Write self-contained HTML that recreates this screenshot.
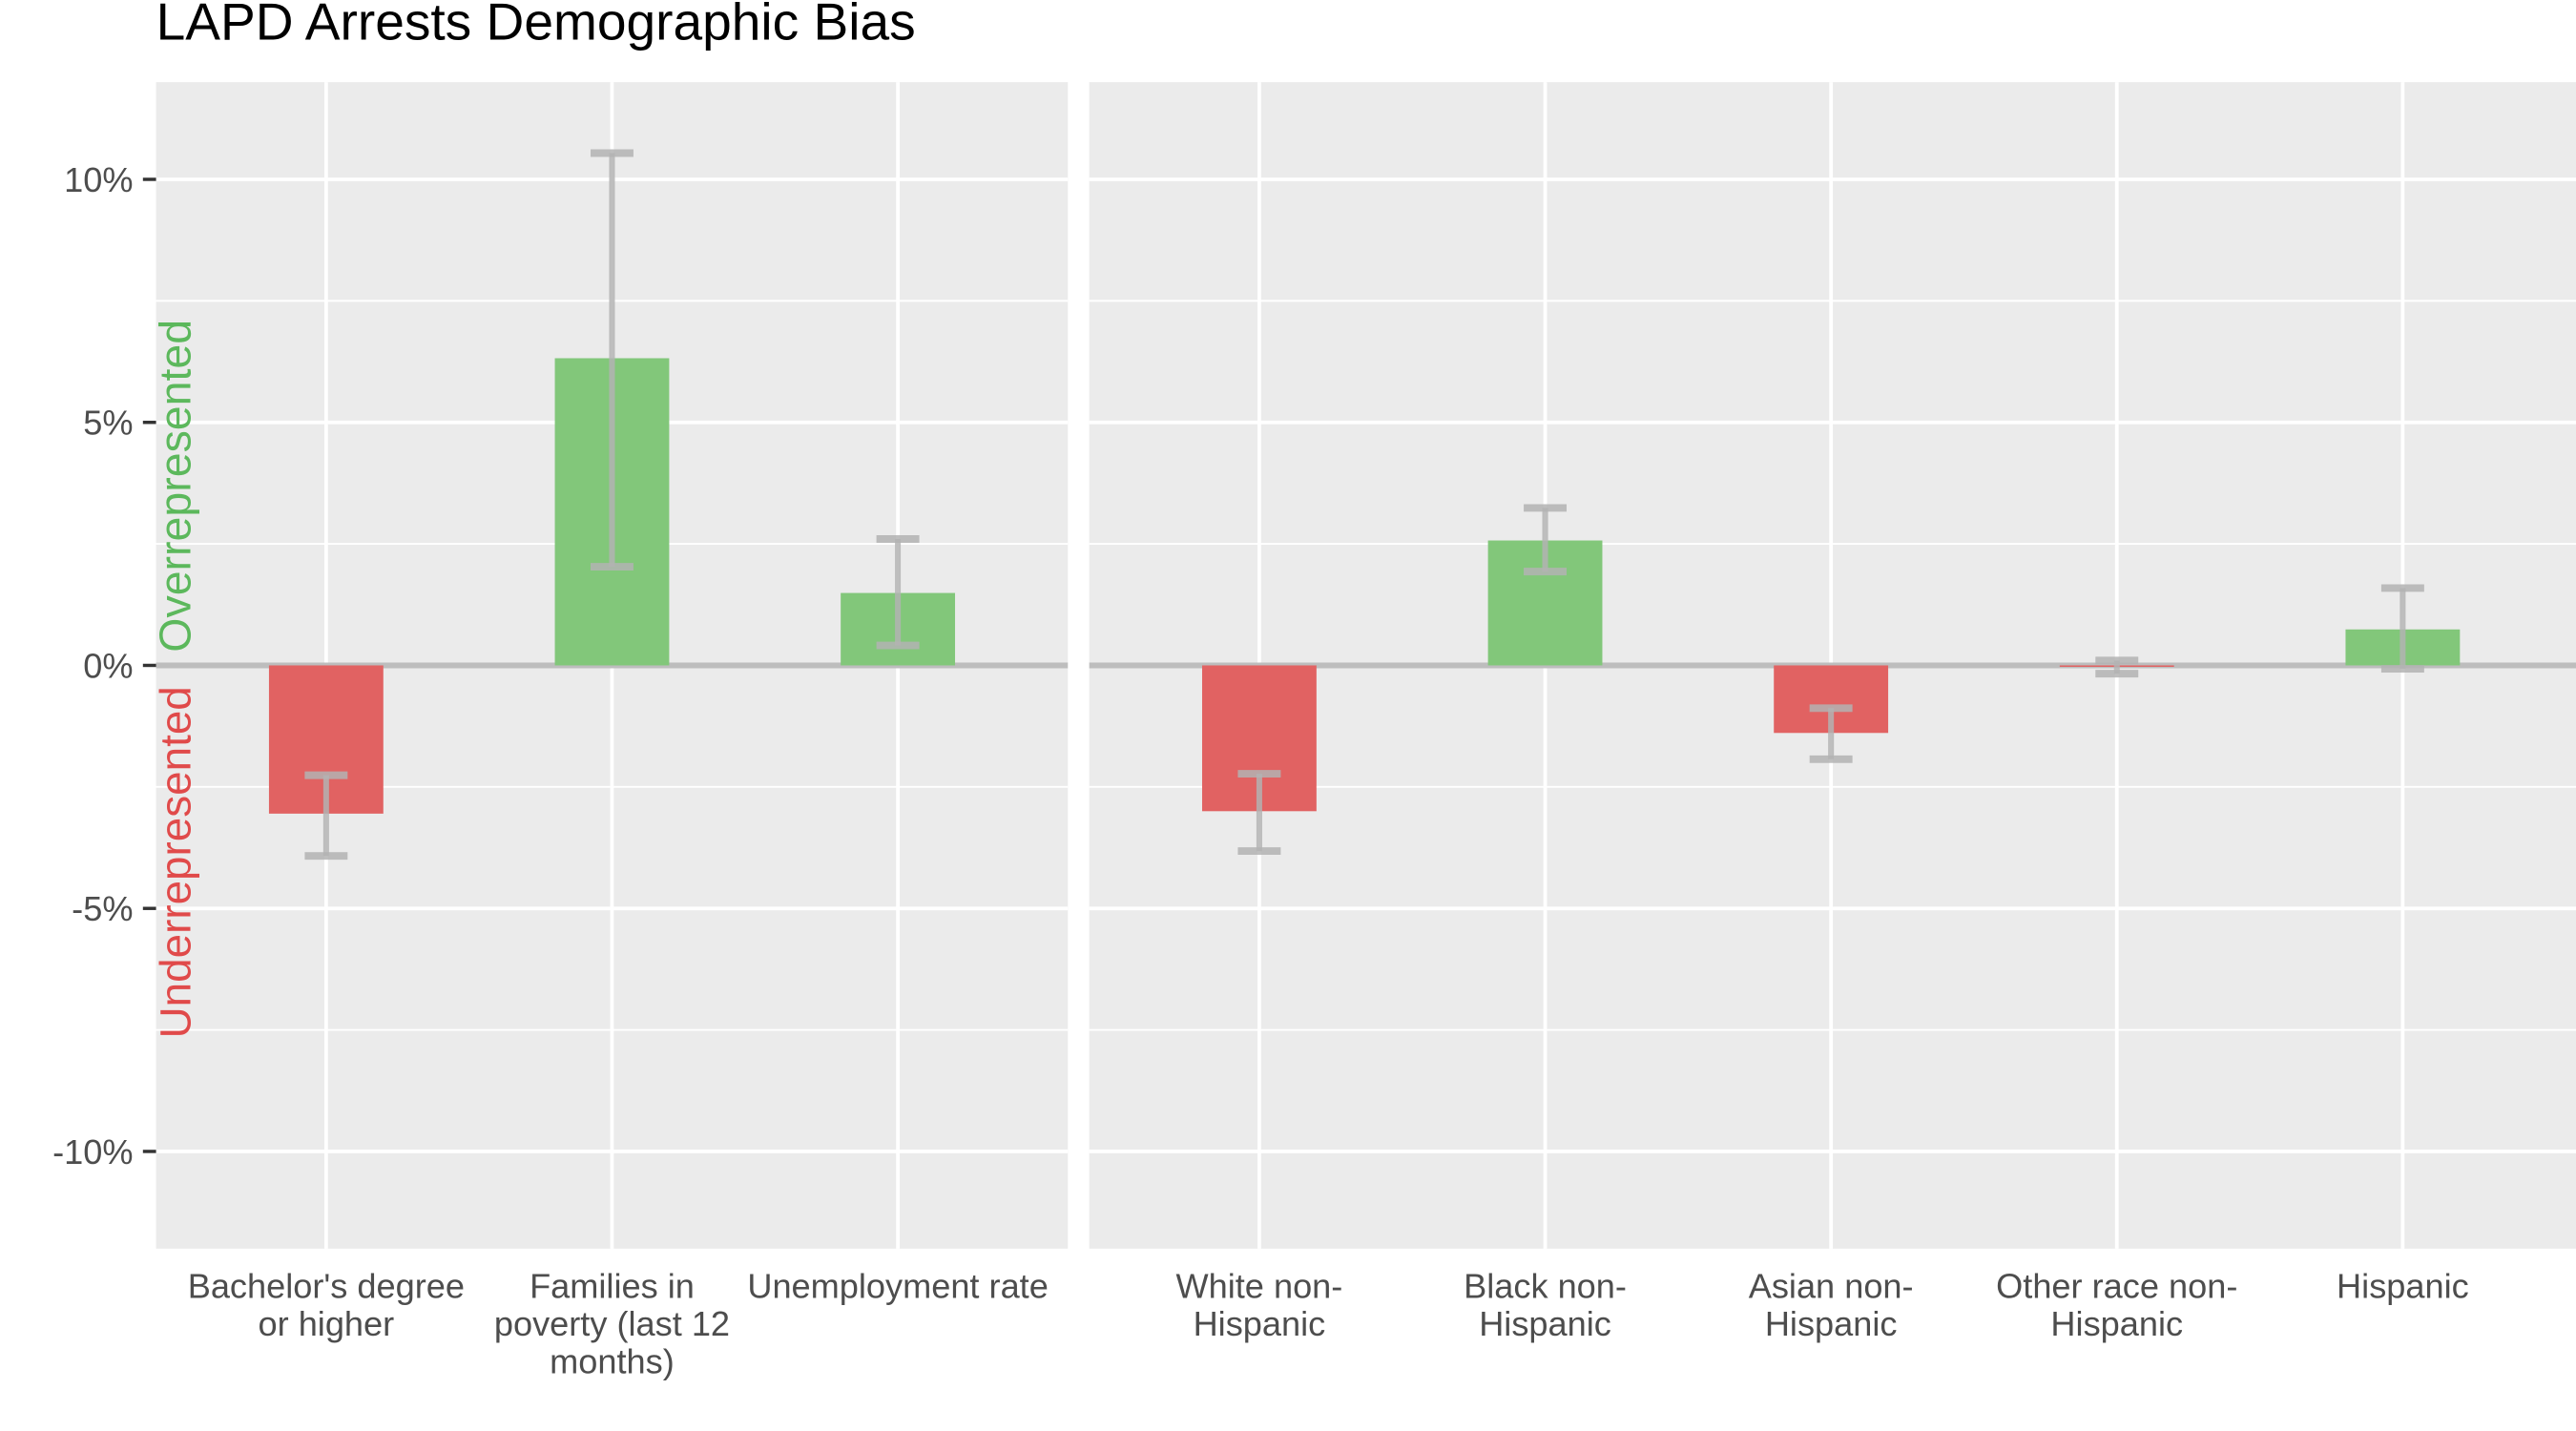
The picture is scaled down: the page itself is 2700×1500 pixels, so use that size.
<!DOCTYPE html>
<html><head><meta charset="utf-8"><style>
html,body{margin:0;padding:0;background:#fff;}
svg{display:block;font-family:"Liberation Sans",Arial,sans-serif;}
</style></head><body>
<svg id="chart" width="2700" height="1500" viewBox="0 0 1568 871" preserveAspectRatio="none" xmlns="http://www.w3.org/2000/svg">
<text x="95" y="24" font-size="32" fill="#000">LAPD Arrests Demographic Bias</text>
<g id="g"></g>
</svg>
<script>
const panel1Categories = [["Bachelor's degree","or higher"],["Families in","poverty (last 12","months)"],["Unemployment rate"]];
const panel1Values = [-3.05, 6.32, 1.49];
const panel1Upper = [-2.26, 10.54, 2.6];
const panel1Lower = [-3.92, 2.03, 0.41];
const panel2Categories = [["White non-","Hispanic"],["Black non-","Hispanic"],["Asian non-","Hispanic"],["Other race non-","Hispanic"],["Hispanic"]];
const panel2Values = [-3.0, 2.57, -1.39, -0.03, 0.74];
const panel2Upper = [-2.23, 3.24, -0.88, 0.1, 1.59];
const panel2Lower = [-3.82, 1.93, -1.93, -0.17, -0.07];
const yTicks = [10, 5, 0, -5, -10];
const yTickLabels = ["10%","5%","0%","-5%","-10%"];
const yMinor = [7.5, 2.5, -2.5, -7.5];

const NS="http://www.w3.org/2000/svg";
const g=document.getElementById('g');
const plotTop=50,plotBottom=760,yMax=12,yMin=-12;
function y(v){return plotTop+(yMax-v)/(yMax-yMin)*(plotBottom-plotTop);}
function mk(tag,attrs,parent){const e=document.createElementNS(NS,tag);for(const k in attrs)e.setAttribute(k,attrs[k]);(parent||g).appendChild(e);return e;}
const unit=174;
const panels=[{x0:95,x1:650,cats:panel1Categories,vals:panel1Values,up:panel1Upper,lo:panel1Lower,name:'panel-1'},
              {x0:663,x1:1568,cats:panel2Categories,vals:panel2Values,up:panel2Upper,lo:panel2Lower,name:'panel-2'}];
panels.forEach(p=>{
  const x=i=>p.x0+(i+0.595)*unit;
  const bg=mk('rect',{x:p.x0,y:plotTop,width:p.x1-p.x0,height:plotBottom-plotTop,fill:'#ebebeb'});
  
  
  yMinor.forEach(v=>{const l=mk('line',{x1:p.x0,x2:p.x1,y1:y(v),y2:y(v),stroke:'#fff','stroke-width':1.1});
    
    });
  yTicks.forEach(v=>{const l=mk('line',{x1:p.x0,x2:p.x1,y1:y(v),y2:y(v),stroke:'#fff','stroke-width':2.2});
    
    });
  p.cats.forEach((c,i)=>{const l=mk('line',{x1:x(i),x2:x(i),y1:plotTop,y2:plotBottom,stroke:'#fff','stroke-width':2.2});
    
    });
  const z=mk('line',{x1:p.x0,x2:p.x1,y1:y(0),y2:y(0),stroke:'#bdbdbd','stroke-width':3.5});
  
  
  p.vals.forEach((v,i)=>{
    const bw=0.4*unit;
    const yt=Math.min(y(v),y(0)),h=Math.max(Math.abs(y(v)-y(0)),0.8);
    const b=mk('rect',{x:x(i)-bw/2,y:yt,width:bw,height:h,fill:v>=0?'#82c77a':'#e16262'});
    
    
    const eg=mk('g',{stroke:'#b3b3b3','stroke-opacity':0.85});
    
    
    const cw=0.075*unit;
    mk('line',{x1:x(i),x2:x(i),y1:y(p.up[i]),y2:y(p.lo[i]),'stroke-width':3.5},eg);
    mk('line',{x1:x(i)-cw,x2:x(i)+cw,y1:y(p.up[i]),y2:y(p.up[i]),'stroke-width':4.6},eg);
    mk('line',{x1:x(i)-cw,x2:x(i)+cw,y1:y(p.lo[i]),y2:y(p.lo[i]),'stroke-width':4.6},eg);
    p.cats[i].forEach((line,k)=>{
      const t=mk('text',{x:x(i),y:790+k*23,'text-anchor':'middle','font-size':21,fill:'#4d4d4d'});
      t.textContent=line;
      
      
    });
  });
});
yTicks.forEach((v,i)=>{
  const tk=mk('line',{x1:87,x2:95,y1:y(v),y2:y(v),stroke:'#333','stroke-width':2});
  
  
  const t=mk('text',{x:81,y:y(v)+7.5,'text-anchor':'end','font-size':21,fill:'#4d4d4d'});
  t.textContent=yTickLabels[i];
  
  
});
const o=mk('text',{x:0,y:0,transform:'translate(116,397) rotate(-90)','font-size':27,fill:'#5cb85c'});
o.textContent='Overrepresented';


const u=mk('text',{x:0,y:0,transform:'translate(116,632) rotate(-90)','font-size':26.6,fill:'#e04a4a'});
u.textContent='Underrepresented';


</script>
</body></html>
